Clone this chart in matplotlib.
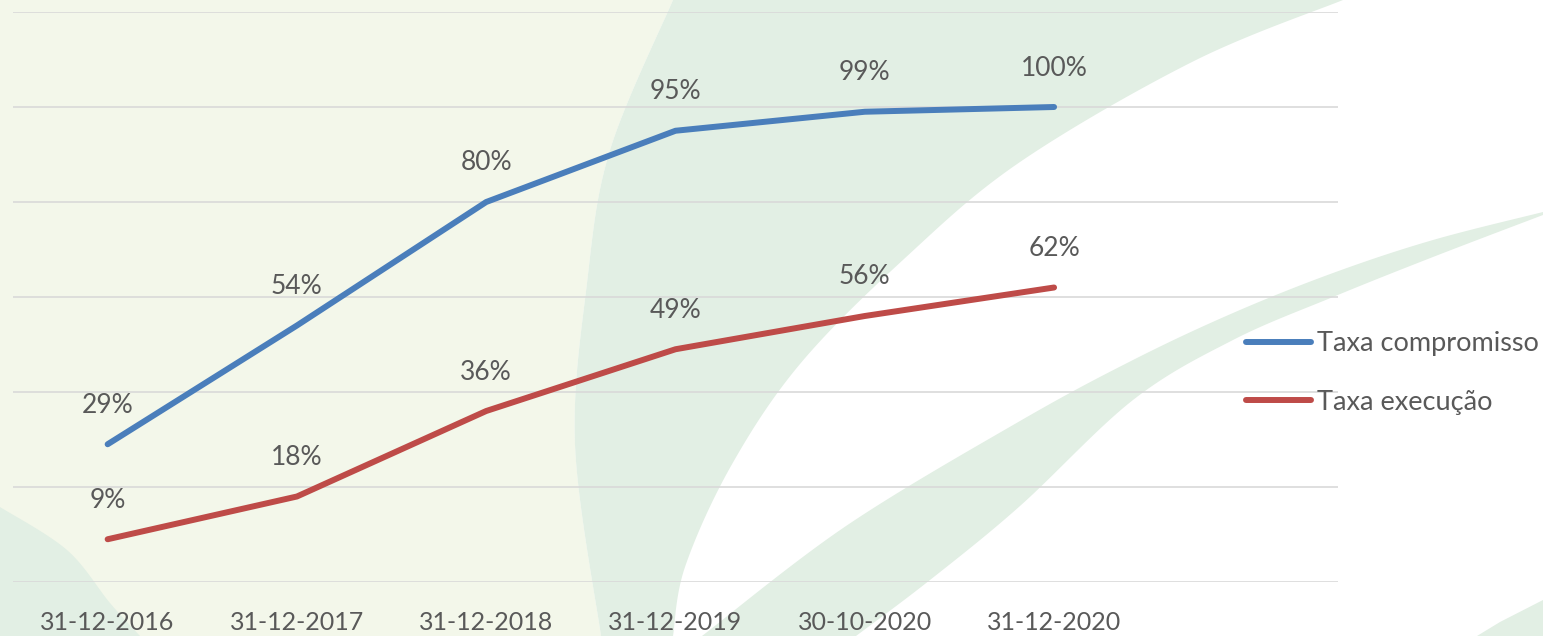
import numpy as np
import matplotlib
matplotlib.use("Agg")
import matplotlib.pyplot as plt
from matplotlib.patches import Polygon

# data
datas = ["31-12-2016", "31-12-2017", "31-12-2018", "31-12-2019", "30-10-2020", "31-12-2020"]
taxa_compromisso = [29, 54, 80, 95, 99, 100]
taxa_execucao = [9, 18, 36, 49, 56, 62]

COR_AZUL = "#4A7EBB"
COR_VERM = "#BE4B48"
COR_TEXTO = "#595959"
CREME = "#F3F7EA"
VERDE = "#E2EFE4"

plt.rcParams["font.family"] = ["Lato", "DejaVu Sans"]

W, H = 1543, 636
fig = plt.figure(figsize=(W / 100, H / 100), dpi=100)
fig.patch.set_facecolor("white")


def smooth(pts, n=20):
    # catmull-rom through the given points, just for the decorative background
    pts = np.asarray(pts, float)
    p = np.vstack([pts[0], pts, pts[-1]])
    out = []
    for i in range(1, len(p) - 2):
        p0, p1, p2, p3 = p[i - 1], p[i], p[i + 1], p[i + 2]
        for t in np.linspace(0, 1, n, endpoint=False):
            t2, t3 = t * t, t * t * t
            out.append(0.5 * ((2 * p1) + (-p0 + p2) * t + (2 * p0 - 5 * p1 + 4 * p2 - p3) * t2
                              + (-p0 + 3 * p1 - 3 * p2 + p3) * t3))
    out.append(pts[-1])
    return np.array(out)


# background decoration (pixel coords, y downwards)
bg = fig.add_axes([0, 0, 1, 1], zorder=0)
bg.set_xlim(0, W)
bg.set_ylim(H, 0)
bg.axis("off")

borda_esq = smooth([(673, 0), (610, 150), (587, 283), (575, 445), (601, 636)])
borda_dir = smooth([(673, 636), (685, 567), (731, 466), (800, 364), (904, 259),
                    (1020, 162), (1194, 61), (1343, 0)])
creme = np.vstack([[(0, 0)], borda_esq, [(0, H)]])
bg.add_patch(Polygon(creme, closed=True, fc=CREME, ec="none"))
crescente = np.vstack([borda_esq, borda_dir])
bg.add_patch(Polygon(crescente, closed=True, fc=VERDE, ec="none"))

faixa_sup = smooth([(702, 636), (846, 526), (1020, 421), (1133, 360), (1233, 313),
                    (1333, 273), (1433, 240), (1543, 212)])
faixa_inf = smooth([(1543, 215), (1433, 257), (1333, 297), (1233, 340), (1133, 400),
                    (1020, 506), (930, 580), (856, 636)])
bg.add_patch(Polygon(np.vstack([faixa_sup, faixa_inf]), closed=True, fc=VERDE, ec="none"))

canto_esq = np.vstack([smooth([(0, 507), (67, 550), (110, 603), (140, 636)]), [(0, H)]])
bg.add_patch(Polygon(canto_esq, closed=True, fc=VERDE, ec="none"))
bg.add_patch(Polygon([(1543, 600), (1500, 622), (1477, 636), (1543, 636)], closed=True,
                     fc=VERDE, ec="none"))

# chart
ax = fig.add_axes([13 / W, 1 - 582 / H, (1338 - 13) / W, (582 - 12) / H], zorder=1)
ax.patch.set_alpha(0)
x = np.arange(len(datas))
ax.plot(x, taxa_compromisso, color=COR_AZUL, lw=4.3, solid_capstyle="round",
        solid_joinstyle="round", label="Taxa compromisso", zorder=3)
ax.plot(x, taxa_execucao, color=COR_VERM, lw=4.3, solid_capstyle="round",
        solid_joinstyle="round", label="Taxa execução", zorder=3)

for serie in (taxa_compromisso, taxa_execucao):
    for xi, v in zip(x, serie):
        ax.annotate(f"{v}%", (xi, v), xytext=(0, 39), textcoords="offset pixels",
                    ha="center", va="center", fontsize=19, color=COR_TEXTO)

ax.set_xlim(-0.5, 6.5)
ax.set_ylim(0, 120)
ax.set_yticks(np.arange(0, 121, 20))
ax.set_yticklabels([])
ax.set_xticks(x)
ax.set_xticklabels(datas, fontsize=18, color=COR_TEXTO)
ax.tick_params(axis="both", length=0)
ax.tick_params(axis="x", pad=21)
ax.grid(axis="y", color="#D9D9D9", lw=1.2)
ax.set_axisbelow(True)
for s in ax.spines.values():
    s.set_visible(False)

fig.legend(loc="center left", bbox_to_anchor=(1246 / W, 1 - 373 / H), frameon=False,
           fontsize=19.5, handlelength=2.4, handletextpad=0.22, labelspacing=1.25,
           labelcolor=COR_TEXTO, borderpad=0, borderaxespad=0)

fig.savefig("out.png", dpi=100)
